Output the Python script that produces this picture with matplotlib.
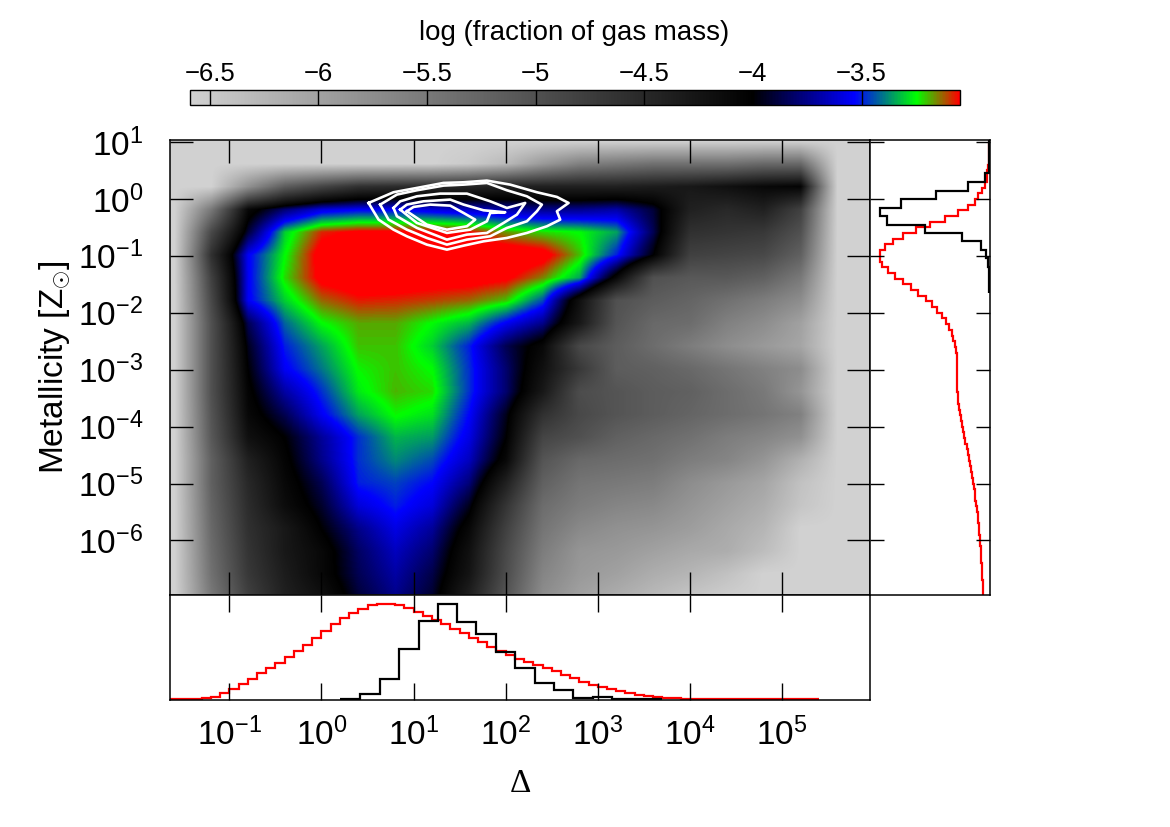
import numpy as np
import matplotlib
matplotlib.use("Agg")
import matplotlib.pyplot as plt
from matplotlib.colors import LinearSegmentedColormap, Normalize

plt.rcParams["font.family"] = ["Liberation Sans", "DejaVu Sans"]
plt.rcParams["mathtext.fontset"] = "custom"
plt.rcParams["mathtext.rm"] = "Liberation Sans"
plt.rcParams["mathtext.it"] = "Liberation Sans:italic"
plt.rcParams["mathtext.bf"] = "Liberation Sans:bold"

# log10 of fraction of gas mass, sampled every 0.4 dex in both directions
HEAT_LOG_DELTA = np.arange(-1.6, 6.01, 0.4)
HEAT_LOG_Z = np.arange(1.0, -7.01, -0.4)
HEAT = np.array([
    [-6.6, -6.6, -6.6, -6.6, -6.6, -6.6, -6.6, -6.6, -6.6, -6.6, -6.6, -6.6, -6.6, -6.6, -6.6, -6.6, -6.6, -6.6, -6.6, -6.6],
    [-6.6, -6.6, -6.6, -6.6, -6.6, -6.6, -6.6, -6.6, -6.5, -6.3, -5.9, -5.6, -5.5, -5.4, -5.4, -5.4, -5.3, -5.3, -6.6, -6.6],
    [-6.6, -6.6, -5.8, -5.15, -4.85, -4.6, -4.55, -4.5, -4.45, -4.4, -4.4, -4.4, -4.4, -4.35, -4.3, -4.2, -4.1, -4.05, -6.6, -6.6],
    [-6.6, -5.5, -4.1, -3.8, -3.6, -3.55, -3.55, -3.6, -3.65, -3.7, -3.75, -3.75, -3.7, -3.9, -4.4, -4.5, -4.4, -4.8, -6.6, -6.6],
    [-6.6, -4.9, -3.9, -3.3, -3.08, -3.03, -3.03, -3.03, -3.05, -3.17, -3.22, -3.25, -3.35, -3.85, -4.6, -4.65, -4.7, -5.0, -6.6, -6.6],
    [-6.6, -4.6, -3.55, -3.25, -3.0, -2.95, -2.95, -2.95, -2.95, -2.95, -3.0, -3.2, -3.5, -4.0, -4.8, -4.85, -4.9, -5.2, -6.6, -6.6],
    [-6.6, -4.8, -3.55, -3.22, -3.02, -2.98, -2.98, -3.0, -3.0, -3.03, -3.15, -3.35, -4.1, -5.0, -5.1, -5.1, -5.2, -5.5, -6.6, -6.6],
    [-6.6, -4.9, -3.55, -3.3, -3.13, -3.07, -3.08, -3.1, -3.13, -3.2, -3.45, -4.2, -5.0, -5.15, -5.25, -5.4, -5.55, -5.75, -6.6, -6.6],
    [-6.6, -5.0, -3.85, -3.42, -3.25, -3.18, -3.18, -3.25, -3.33, -3.55, -3.75, -4.3, -5.05, -5.3, -5.35, -5.6, -5.75, -6.0, -6.6, -6.6],
    [-6.6, -5.0, -3.95, -3.5, -3.35, -3.2, -3.2, -3.3, -3.5, -3.85, -4.1, -4.9, -5.15, -5.35, -5.55, -5.75, -5.9, -6.05, -6.6, -6.6],
    [-6.6, -5.0, -4.0, -3.55, -3.4, -3.24, -3.2, -3.25, -3.48, -3.8, -4.2, -4.7, -5.15, -5.2, -5.3, -5.45, -5.6, -5.75, -6.6, -6.6],
    [-6.6, -5.0, -4.05, -3.7, -3.48, -3.27, -3.19, -3.22, -3.48, -3.8, -4.3, -4.95, -5.05, -5.15, -5.2, -5.35, -5.5, -5.85, -6.6, -6.6],
    [-6.6, -5.05, -4.1, -3.85, -3.55, -3.35, -3.24, -3.28, -3.53, -3.95, -4.6, -4.9, -5.05, -5.15, -5.25, -5.35, -5.45, -5.6, -6.6, -6.6],
    [-6.6, -5.1, -4.2, -4.0, -3.72, -3.48, -3.33, -3.36, -3.58, -4.0, -4.85, -5.0, -5.2, -5.3, -5.4, -5.55, -5.65, -5.8, -6.6, -6.6],
    [-6.6, -5.2, -4.4, -4.05, -3.75, -3.48, -3.38, -3.45, -3.65, -4.1, -5.05, -5.3, -5.35, -5.4, -5.55, -5.65, -5.85, -6.2, -6.6, -6.6],
    [-6.6, -5.2, -4.5, -4.1, -3.85, -3.5, -3.46, -3.53, -3.78, -4.4, -5.2, -5.45, -5.5, -5.55, -5.75, -5.9, -6.05, -6.4, -6.6, -6.6],
    [-6.6, -5.25, -4.55, -4.15, -3.92, -3.6, -3.5, -3.6, -3.95, -4.65, -5.35, -5.55, -5.65, -5.7, -5.85, -6.0, -6.15, -6.45, -6.6, -6.6],
    [-6.6, -5.3, -4.6, -4.3, -4.0, -3.75, -3.58, -3.72, -4.1, -4.8, -5.45, -5.7, -5.8, -5.85, -5.95, -6.1, -6.25, -6.6, -6.6, -6.6],
    [-6.6, -5.35, -4.65, -4.3, -4.1, -3.82, -3.65, -3.8, -4.2, -4.9, -5.55, -5.85, -5.9, -6.0, -6.1, -6.15, -6.35, -6.6, -6.6, -6.6],
    [-6.6, -5.4, -4.7, -4.35, -4.1, -3.85, -3.7, -3.87, -4.25, -4.95, -5.65, -5.9, -6.0, -6.15, -6.25, -6.4, -6.6, -6.6, -6.6, -6.6],
    [-6.6, -5.5, -4.8, -4.4, -4.2, -3.9, -3.75, -3.92, -4.4, -5.05, -5.75, -6.0, -6.15, -6.3, -6.45, -6.55, -6.6, -6.6, -6.6, -6.6],
])

# white contour outlines (log Delta, log Z)
CONTOUR_1 = [(.511, -.071), (.565, -.217), (.620, -.364), (.782, -.540), (.927, -.657), (1.144, -.803),
             (1.362, -.891), (1.543, -.821), (1.760, -.745), (2.013, -.686), (2.230, -.598), (2.447, -.481),
             (2.592, -.364), (2.556, -.217), (2.683, -.071), (2.556, .035), (2.339, .117), (2.049, .251),
             (1.796, .322), (1.543, .292), (1.325, .281), (1.036, .193), (.782, .117), (.511, -.071)]
CONTOUR_2 = [(.638, -.100), (.728, -.364), (.927, -.540), (1.144, -.686), (1.362, -.803), (1.579, -.715),
             (1.832, -.657), (2.013, -.510), (2.230, -.393), (2.339, -.217), (2.393, -.100), (2.230, .046),
             (2.013, .152), (1.796, .281), (1.543, .251), (1.325, .234), (1.036, .152), (.819, .076), (.638, -.100)]
CONTOUR_3 = [(.782, -.159), (.819, -.305), (1.036, -.510), (1.362, -.715), (1.579, -.627), (1.796, -.598),
             (1.977, -.422), (2.122, -.276), (2.212, -.071), (2.013, -.159), (1.832, -.042), (1.579, .093),
             (1.289, .093), (1.036, .046), (.855, -.042), (.782, -.159)]
CONTOUR_4 = [(.855, -.188), (1.036, -.422), (1.362, -.598), (1.615, -.540), (1.796, -.393), (1.832, -.247),
             (1.995, -.235), (1.760, -.200), (1.543, -.100), (1.398, -.012), (1.108, -.042), (.927, -.100), (.855, -.188)]
CONTOUR_5 = [(.927, -.217), (1.144, -.452), (1.362, -.540), (1.579, -.481), (1.669, -.364), (1.543, -.247),
             (1.398, -.118), (1.181, -.100), (1.000, -.141), (.927, -.217)]
CONTOURS = [CONTOUR_1, CONTOUR_2, CONTOUR_3, CONTOUR_4, CONTOUR_5]

# bottom panel: histogram heights (arbitrary units) over log Delta
DELTA_RED_EDGES = np.round(np.arange(-1.7, 5.41, 0.1), 1)
DELTA_RED = [0, 0, 0, 1, 3, 8, 18,
             31, 46, 62, 78, 93, 110, 127, 145, 163, 183,
             205, 227, 243, 259, 272, 282, 286, 286, 282, 274,
             261, 250, 238, 225, 210, 198, 183, 171, 157, 145,
             133, 121, 113, 103, 93, 85, 73, 63, 53, 43,
             36, 30, 24, 18, 13, 9, 6, 4, 3, 2,
             2, 1, 1, 1, 1, 1, 1, 1, 1, 1, 1, 1, 1, 1]
DELTA_BLACK_EDGES = [0.203, 0.420, 0.630, 0.840, 1.054, 1.260, 1.470, 1.680, 1.893, 2.103, 2.313, 2.523,
                     2.733, 2.943, 3.153, 3.363, 3.7]
DELTA_BLACK = [2, 15, 62, 152, 236, 285, 233, 197, 141, 94, 49, 28, 4, 7, 2, 0]

# right panel: histogram heights over log Z, from the top down
Z_RED_EDGES = np.round(np.arange(1.0, -7.01, -0.1), 1)
Z_RED = [1, 1, 2, 2, 3, 6, 6, 13, 23, 33,
         43, 63, 93, 133, 178, 218, 258, 288, 313, 326,
         328, 320, 303, 281, 258, 233, 213, 190, 173, 158,
         143, 130, 121, 113, 108, 103, 100, 98, 97, 97,
         97, 97, 97, 96, 95, 93, 91, 88, 85, 82,
         79, 75, 72, 68, 65, 62, 59, 56, 53, 50,
         47, 44, 42, 39, 37, 35, 33, 31, 30, 28,
         27, 26, 25, 24, 23, 22, 21, 20, 19, 18]
Z_BLACK_EDGES = [1.03, 0.46, 0.30, 0.147, 0.0, -0.159, -0.306, -0.453, -0.6, -0.747, -0.894, -1.041, -1.188, -1.65]
Z_BLACK = [2, 13, 63, 161, 265, 328, 306, 191, 81, 25, 10, 3, 1]

X_TICKS = [-1, 0, 1, 2, 3, 4, 5]
Y_TICKS = [-6, -5, -4, -3, -2, -1, 0, 1]
CBAR_TICKS = [-6.5, -6, -5.5, -5, -4.5, -4, -3.5]
CBAR_LABELS = ["\u22126.5", "\u22126", "\u22125.5", "\u22125", "\u22124.5", "\u22124", "\u22123.5"]
VMIN, VMAX = -6.593, -3.047
CMAP_STOPS = [(-6.593, (0.82, 0.82, 0.82)), (-4.0, (0, 0, 0)), (-3.53, (0, 0, 1)),
              (-3.244, (0, 1, 0)), (-3.047, (1, 0, 0))]


def log_label(n):
    return "$\\mathregular{10^{%s}}$" % (("\u2212%d" % -n) if n < 0 else str(n))


def px_axes(fig, x0, y0, x1, y1):
    """Axes from pixel box, y measured from the top of the picture."""
    W, H = fig.canvas.get_width_height()
    return fig.add_axes([x0 / W, 1 - y1 / H, (x1 - x0) / W, (y1 - y0) / H])


cmap = LinearSegmentedColormap.from_list(
    "gas", [((v - VMIN) / (VMAX - VMIN), c) for v, c in CMAP_STOPS], N=512)
norm = Normalize(VMIN, VMAX)

fig = plt.figure(figsize=(11.7, 8.27), dpi=100)

ax = px_axes(fig, 169.5, 140, 869.5, 594.5)
ax_bot = px_axes(fig, 169.5, 594.5, 869.5, 700)
ax_right = px_axes(fig, 869.5, 140, 989.5, 594.5)
cax = px_axes(fig, 189.5, 90, 960, 105)

half = 0.2
im = ax.imshow(HEAT, cmap=cmap, norm=norm, aspect="auto", interpolation="bilinear", origin="upper",
               extent=(HEAT_LOG_DELTA[0] - half, HEAT_LOG_DELTA[-1] + half,
                       HEAT_LOG_Z[-1] - half, HEAT_LOG_Z[0] + half))
for outline in CONTOURS:
    xs, ys = zip(*outline)
    ax.plot(xs, ys, color="white", lw=1.9, solid_joinstyle="round")

xlim = (-1.65, 5.95)
ylim = (-6.95, 1.035)
ax.set_xlim(xlim)
ax.set_ylim(ylim)
ax.set_xticks(X_TICKS)
ax.set_xticklabels([])
ax.set_yticks(Y_TICKS)
ax.set_yticklabels([log_label(n) for n in Y_TICKS], fontsize=24)
ax.tick_params(which="both", direction="in", top=True, right=True, length=16.5, width=1.0, color="black")
ax.tick_params(axis="y", pad=19)
ax.set_ylabel(r"Metallicity [Z$_{\odot}$]", fontsize=24, va="center")
ax.yaxis.set_label_coords((55 - 169.5) / 700, 0.5)

ax_bot.stairs(DELTA_RED, DELTA_RED_EDGES, color="red", lw=1.6, baseline=None)
ax_bot.stairs(DELTA_BLACK, DELTA_BLACK_EDGES, color="black", lw=1.6, baseline=None)
ax_bot.set_xlim(xlim)
ax_bot.set_ylim(-2, 314)
ax_bot.set_yticks([])
ax_bot.set_xticks(X_TICKS)
ax_bot.set_xticklabels([log_label(n) for n in X_TICKS], fontsize=24)
ax_bot.tick_params(direction="in", top=True, length=12.2, width=1.0)
ax_bot.tick_params(axis="x", pad=12.5)
ax_bot.set_xlabel("\u0394", fontsize=24, family="Liberation Serif", va="center")
ax_bot.xaxis.set_label_coords((520 - 169.5) / 700, -(784 - 700) / 105.5)

ax_right.stairs(Z_RED[::-1], Z_RED_EDGES[::-1], orientation="horizontal", color="red", lw=1.6, baseline=None)
ax_right.stairs(Z_BLACK[::-1], Z_BLACK_EDGES[::-1], orientation="horizontal", color="black", lw=1.6, baseline=None)
ax_right.set_xlim(358, 0)
ax_right.set_ylim(ylim)
ax_right.set_xticks([])
ax_right.set_yticks(Y_TICKS)
ax_right.set_yticklabels([])
ax_right.tick_params(direction="in", left=True, right=True, length=10, width=1.0)

cb = fig.colorbar(im, cax=cax, orientation="horizontal", ticks=CBAR_TICKS)
cb.ax.xaxis.set_ticks_position("top")
cb.ax.set_xticklabels(CBAR_LABELS, fontsize=18.5)
cb.ax.tick_params(direction="in", length=11, width=1.0, pad=3, color="black")
cb.outline.set_linewidth(1.0)
fig.text(574 / 1170, 1 - 33 / 827, "log (fraction of gas mass)", fontsize=19.9, ha="center", va="center")

for a in (ax, ax_bot, ax_right):
    for s in a.spines.values():
        s.set_linewidth(1.1)

fig.savefig("out.png", dpi=100)
